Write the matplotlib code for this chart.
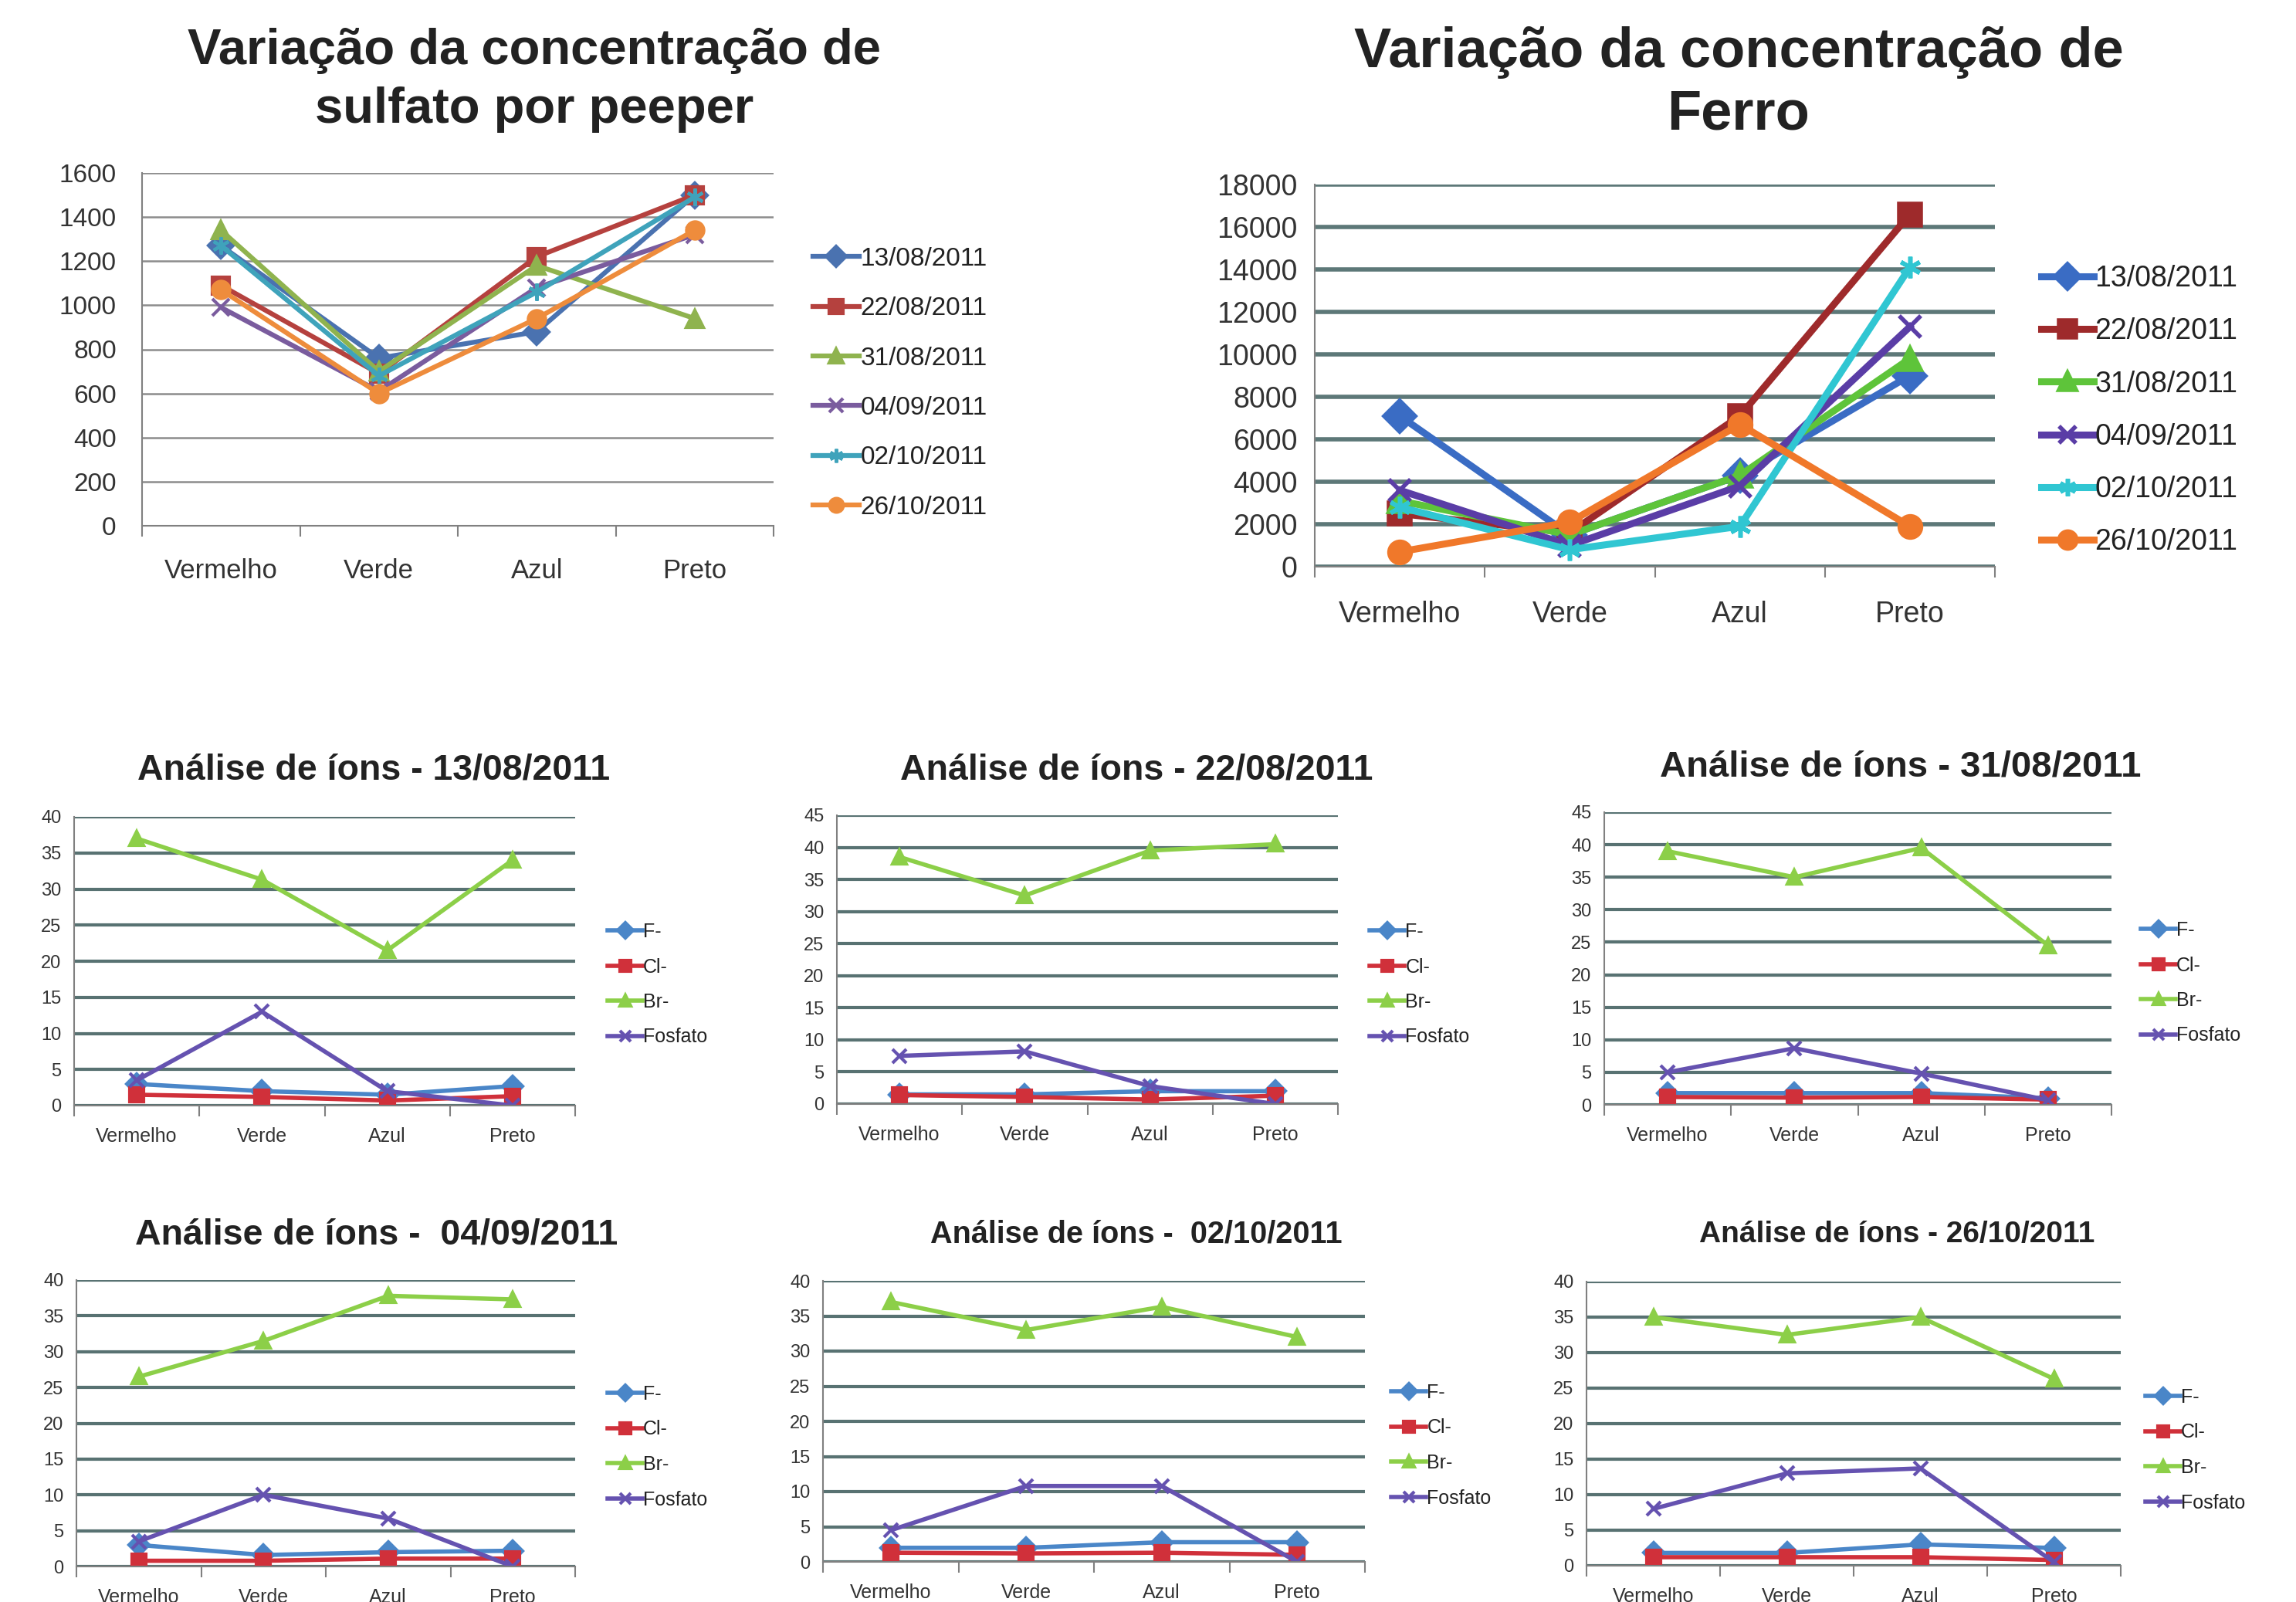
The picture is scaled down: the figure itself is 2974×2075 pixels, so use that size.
import numpy as np
import matplotlib.pyplot as plt
from matplotlib.ticker import FixedLocator

plt.rcParams['font.family'] = ['Liberation Sans', 'DejaVu Sans']

cats = ['Vermelho', 'Verde', 'Azul', 'Preto']
dates = ['13/08/2011', '22/08/2011', '31/08/2011', '04/09/2011', '02/10/2011', '26/10/2011']

# sulfato por peeper
sulf_1308 = [1270, 760, 880, 1500]
sulf_2208 = [1090, 690, 1220, 1500]
sulf_3108 = [1340, 700, 1180, 940]
sulf_0409 = [990, 610, 1080, 1320]
sulf_0210 = [1270, 680, 1060, 1490]
sulf_2610 = [1070, 600, 940, 1340]

# ferro
fe_1308 = [7100, 1500, 4300, 9000]
fe_2208 = [2500, 1600, 7100, 16600]
fe_3108 = [3100, 1500, 4300, 9800]
fe_0409 = [3600, 1000, 3800, 11300]
fe_0210 = [2800, 800, 1900, 14100]
fe_2610 = [700, 2100, 6700, 1900]

ions = ['F-', 'Cl-', 'Br-', 'Fosfato']
# F-, Cl-, Br-, Fosfato per date
ion_1308 = [[3.0, 2.0, 1.5, 2.7], [1.5, 1.2, 0.7, 1.3], [37, 31.3, 21.5, 34], [3.5, 13, 2.0, 0]]
ion_2208 = [[1.5, 1.5, 2.0, 2.0], [1.4, 1.1, 0.7, 1.3], [38.5, 32.5, 39.5, 40.5], [7.5, 8.2, 2.8, 0]]
ion_3108 = [[1.8, 1.8, 1.8, 1.0], [1.2, 1.1, 1.2, 0.8], [39, 35, 39.5, 24.5], [5.0, 8.7, 4.8, 0.7]]
ion_0409 = [[3.0, 1.6, 2.0, 2.2], [0.8, 0.8, 1.1, 1.1], [26.5, 31.5, 37.8, 37.3], [3.5, 10, 6.7, 0]]
ion_0210 = [[2.0, 2.0, 2.8, 2.8], [1.3, 1.2, 1.3, 1.0], [37, 33, 36.3, 32], [4.5, 10.8, 10.8, 0]]
ion_2610 = [[1.8, 1.8, 3.0, 2.5], [1.2, 1.2, 1.2, 0.8], [35, 32.5, 35, 26.3], [8, 13, 13.7, 0.5]]

W, H = 2974, 2075
fig = plt.figure(figsize=(W / 100, H / 100), dpi=100)
fig.patch.set_facecolor('white')

star = (6, 2, 0)
mk6 = ['D', 's', '^', 'x', star, 'o']
mk4 = ['D', 's', '^', 'x']


def add_ax(l, r, t, b):
    return fig.add_axes([l / W, 1 - b / H, (r - l) / W, (b - t) / H])


def style(ax, ymax, step, gcol, glw, tick_fs, cat_fs, cat_pad, ypad):
    x = np.arange(len(cats))
    ax.set_xlim(-0.5, 3.5)
    ax.set_ylim(0, ymax)
    ax.set_yticks(np.arange(0, ymax + 1, step))
    ax.set_xticks(x)
    ax.set_xticklabels(cats, fontsize=cat_fs, color='#333333')
    ax.xaxis.set_minor_locator(FixedLocator([-0.5, 0.5, 1.5, 2.5, 3.5]))
    ax.tick_params(axis='x', which='major', length=0, pad=cat_pad)
    ax.tick_params(axis='x', which='minor', length=10, width=1.5, color='#808080')
    ax.tick_params(axis='y', length=0, labelsize=tick_fs, labelcolor='#333333', pad=ypad)
    ax.grid(axis='y', color=gcol, lw=glw)
    ax.set_axisbelow(True)
    for s in ['top', 'right']:
        ax.spines[s].set_visible(False)
    for s in ['left', 'bottom']:
        ax.spines[s].set_color('#808080')
        ax.spines[s].set_linewidth(1.5)
    ax.set_facecolor('none')


def legend(ax, x, y, fs, spacing):
    ax.legend(loc='upper left', bbox_to_anchor=(x / W, 1 - y / H), bbox_transform=fig.transFigure,
              frameon=False, fontsize=fs, labelspacing=spacing, handlelength=1.8,
              handletextpad=0.05, borderaxespad=0, borderpad=0, labelcolor='#222222',
              markerscale=0.8)


# ---- sulfato ----
cols1 = ['#4a72b0', '#b5413e', '#8fb34e', '#7a5c9e', '#3fa3bb', '#ee8c3c']
ax1 = add_ax(184, 1002, 224, 681)
for vals, lab, c, m in zip([sulf_1308, sulf_2208, sulf_3108, sulf_0409, sulf_0210, sulf_2610],
                           dates, cols1, mk6):
    ax1.plot(range(4), vals, color=c, lw=4.5, marker=m, ms=16, mew=3, label=lab)
style(ax1, 1600, 200, '#8c8c8c', 1.8, 24, 25, 30, 24)
legend(ax1, 1053, 320, 24, 1.0)
fig.text(692 / W, 1 - 66 / H, 'Variação da concentração de', ha='center', va='center',
         fontsize=47, fontweight='bold', color='#222222')
fig.text(692 / W, 1 - 142 / H, 'sulfato por peeper', ha='center', va='center',
         fontsize=47, fontweight='bold', color='#222222')

# ---- ferro ----
cols2 = ['#3a6cc4', '#9e2a2b', '#5ec43a', '#5a3da6', '#30c6d2', '#f0782a']
ax2 = add_ax(1703, 2584, 239, 734)
for vals, lab, c, m in zip([fe_1308, fe_2208, fe_3108, fe_0409, fe_0210, fe_2610],
                           dates, cols2, mk6):
    ax2.plot(range(4), vals, color=c, lw=6.5, marker=m, ms=20, mew=4, label=lab)
style(ax2, 18000, 2000, '#5d7878', 4, 27, 27, 32, 16)
legend(ax2, 2644, 343, 27, 0.86)
fig.text(2252 / W, 1 - 68 / H, 'Variação da concentração de', ha='center', va='center',
         fontsize=52, fontweight='bold', color='#222222')
fig.text(2252 / W, 1 - 148 / H, 'Ferro', ha='center', va='center',
         fontsize=52, fontweight='bold', color='#222222')

# ---- ions ----
cols3 = ['#4a86c8', '#d0303a', '#8ccf48', '#6552b0']
panels = [
    (ion_1308, 'Análise de íons - 13/08/2011', (96, 745, 1058, 1432), 40, 484, 998, 33.5, (787, 1195)),
    (ion_2208, 'Análise de íons - 22/08/2011', (1084, 1733, 1056, 1430), 45, 1472, 998, 33.5, (1774, 1195)),
    (ion_3108, 'Análise de íons - 31/08/2011', (2078, 2735, 1052, 1431), 45, 2462, 994, 34, (2773, 1193)),
    (ion_0409, 'Análise de íons -  04/09/2011', (99, 745, 1658, 2029), 40, 488, 1599, 33.5, (787, 1794)),
    (ion_0210, 'Análise de íons -  02/10/2011', (1066, 1768, 1659, 2023), 40, 1472, 1599, 28.5, (1802, 1792)),
    (ion_2610, 'Análise de íons - 26/10/2011', (2055, 2747, 1660, 2028), 40, 2457, 1599, 28, (2779, 1798)),
]
for data, title, (l, r, t, b), ymax, tx, ty, tfs, (lx, ly) in panels:
    ax = add_ax(l, r, t, b)
    for vals, lab, c, m in zip(data, ions, cols3, mk4):
        ax.plot(range(4), vals, color=c, lw=4, marker=m, ms=13, mew=3, label=lab)
    style(ax, ymax, 5, '#587272', 3, 17, 18, 20, 12)
    legend(ax, lx, ly, 18, 0.86)
    fig.text(tx / W, 1 - ty / H, title, ha='center', va='center',
             fontsize=tfs, fontweight='bold', color='#222222')

fig.savefig('out.png', dpi=100)
